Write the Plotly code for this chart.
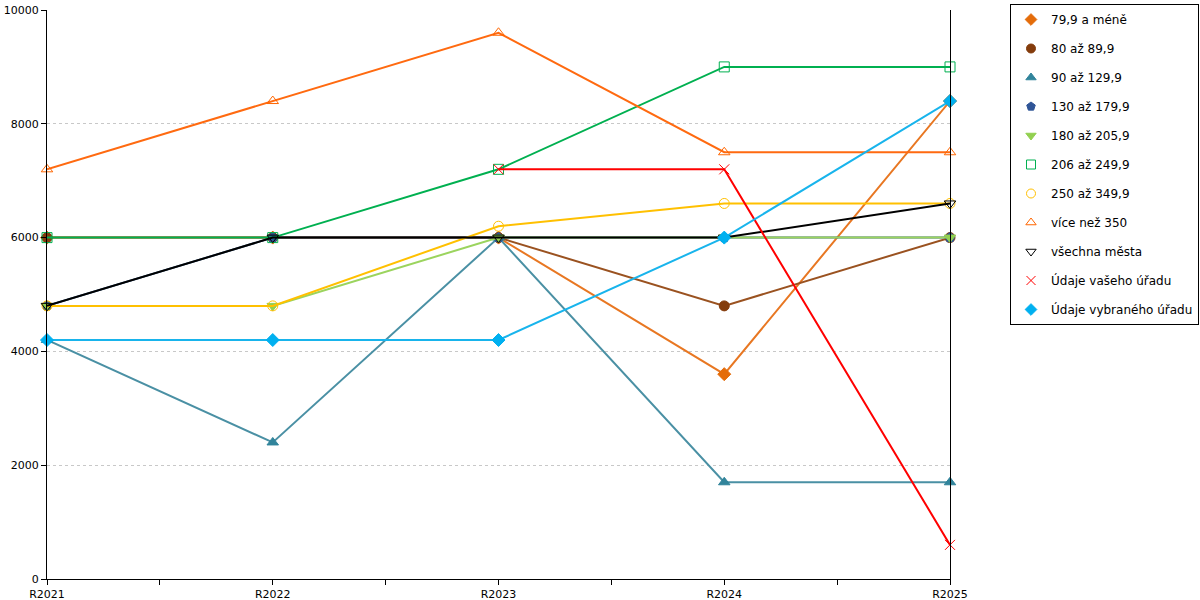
import plotly.graph_objs as go

# -- datos
roky = ['R2021', 'R2022', 'R2023', 'R2024', 'R2025']

nazvy = ['79,9 a méně', '80 až 89,9', '90 až 129,9', '130 až 179,9', '180 až 205,9',
         '206 až 249,9', '250 až 349,9', 'více než 350', 'všechna města',
         'Údaje vašeho úřadu', 'Údaje vybraného úřadu']

s_79 = [6000, 6000, 6000, 3600, 8400]
s_80 = [6000, 6000, 6000, 4800, 6000]
s_90 = [4200, 2400, 6000, 1700, 1700]
s_130 = [4800, 6000, 6000, 6000, 6000]
s_180 = [4800, 4800, 6000, 6000, 6000]
s_206 = [6000, 6000, 7200, 9000, 9000]
s_250 = [4800, 4800, 6200, 6600, 6600]
s_350 = [7200, 8400, 9600, 7500, 7500]
s_vse = [4800, 6000, 6000, 6000, 6600]
s_vas = [None, None, 7200, 7200, 600]
s_vyb = [4200, 4200, 4200, 6000, 8400]

hodnoty = [s_79, s_80, s_90, s_130, s_180, s_206, s_250, s_350, s_vse, s_vas, s_vyb]

# -- estilos (color linea, color marcador, simbolo)
barvy = ['#E87722', '#9A5220', '#4A90A4', '#2E5B8A', '#9BD45E', '#00B050',
         '#FFC000', '#FF6A10', '#000000', '#FF0000', '#18B4EC']
barvy_m = ['#E46C0A', '#843C0C', '#31849B', '#2F5597', '#92D050', '#00B050',
           '#FFC000', '#FF6600', '#000000', '#FF0000', '#00B0F0']
symboly = ['diamond', 'circle', 'triangle-up', 'pentagon', 'triangle-down', 'square-open',
           'circle-open', 'triangle-up-open', 'triangle-down-open', 'x-thin-open', 'diamond']

xs = list(range(len(roky)))

fig = go.Figure()

for i, nazev in enumerate(nazvy):
    # trazo con datos
    fig.add_trace(go.Scatter(x=xs, y=hodnoty[i], mode='lines+markers', name=nazev,
                             line=dict(color=barvy[i], width=2),
                             marker=dict(symbol=symboly[i], size=10, color=barvy_m[i],
                                         line=dict(color=barvy_m[i], width=1)),
                             cliponaxis=False, showlegend=False, connectgaps=False))
    # solo para la leyenda (sin linea)
    fig.add_trace(go.Scatter(x=[None], y=[None], mode='markers', name=nazev,
                             legendgroup=nazev,
                             marker=dict(symbol=symboly[i], size=9, color=barvy_m[i],
                                         line=dict(color=barvy_m[i], width=1))))

fig.update_layout(
    width=1200, height=600,
    paper_bgcolor='white', plot_bgcolor='white',
    font=dict(family='DejaVu Sans', size=11, color='black'),
    margin=dict(l=47, r=250, t=10, b=21),
    xaxis=dict(range=[0, len(roky) - 1], tickvals=xs, ticktext=roky, automargin=False,
               showline=True, linecolor='black', linewidth=1, showgrid=False, zeroline=False,
               ticks='outside', ticklen=5, tickcolor='black',
               minor=dict(dtick=0.5, ticks='outside', ticklen=5, tickcolor='black')),
    yaxis=dict(range=[0, 10000], dtick=2000, tickformat='d', showline=True, linecolor='black',
               linewidth=1, automargin=False,
               mirror=True, ticks='outside', ticklen=5, tickcolor='black', zeroline=False,
               showgrid=True, gridcolor='#c8c8c8', griddash='dot', gridwidth=1),
    legend=dict(xref='container', yref='container', x=1010 / 1200, y=1 - 4 / 600,
                xanchor='left', yanchor='top', font=dict(size=12),
                bordercolor='black', borderwidth=1, bgcolor='white', maxheight=1,
                traceorder='grouped', tracegroupgap=10, itemwidth=30)
)

# sin margen del body para que la figura quede en 0,0
fig.write_html("out.html", config={'displayModeBar': False},
               post_script="document.body.style.margin='0';")
